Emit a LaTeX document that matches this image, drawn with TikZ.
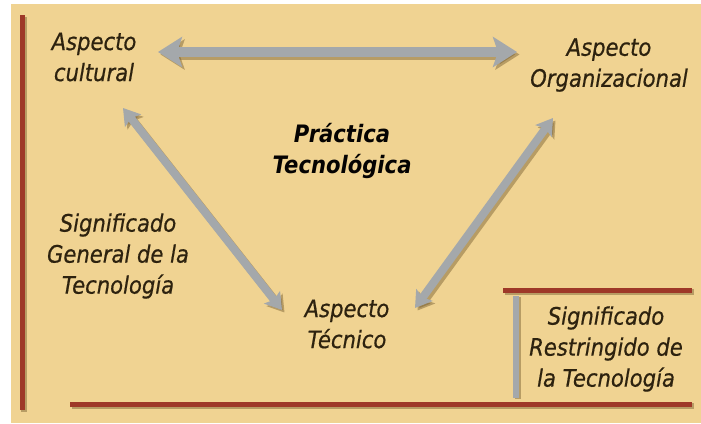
\documentclass[tikz,border=0pt]{standalone}
\usepackage{fontspec}
\setmainfont[FakeStretch=0.88]{DejaVu Sans}
\newfontfamily\lblfont[FakeStretch=0.88,FakeBold=0.6]{DejaVu Sans}
\usetikzlibrary{arrows.meta}
\definecolor{bg}{RGB}{240,211,146}
\definecolor{redl}{RGB}{158,56,40}
\definecolor{greyarr}{RGB}{164,168,171}
\definecolor{shade}{RGB}{115,90,45}
\definecolor{txt}{RGB}{45,34,15}
\begin{document}
\begin{tikzpicture}[x=1pt,y=-1pt,
  lbl/.style={font=\lblfont\fontsize{24}{31}\selectfont\itshape, text=txt, align=center, inner sep=0pt},
  boldlbl/.style={lbl, font=\fontsize{24}{31}\selectfont\itshape\bfseries, text=black!90!txt},
  redline/.style={draw=redl, line width=5pt},
  redshadow/.style={draw=shade, opacity=0.45, line width=6pt, transform canvas={shift={(2pt,-2pt)}}},
  bigarrow/.style={draw=greyarr, line width=10pt, {Stealth[width=30pt,length=24pt,inset=5pt]}-{Stealth[width=30pt,length=24pt,inset=5pt]}},
  bigshadow/.style={draw=shade, opacity=0.45, line width=10pt, {Stealth[width=30pt,length=24pt,inset=5pt]}-{Stealth[width=30pt,length=24pt,inset=5pt]}, transform canvas={shift={(2.5pt,-2.5pt)}}},
  diagarrow/.style={draw=greyarr, line width=8pt, {Stealth[width=20pt,length=16pt,inset=3pt]}-{Stealth[width=20pt,length=16pt,inset=3pt]}},
  diagshadow/.style={draw=shade, opacity=0.45, line width=8pt, {Stealth[width=20pt,length=16pt,inset=3pt]}-{Stealth[width=20pt,length=16pt,inset=3pt]}, transform canvas={shift={(2.5pt,-2.5pt)}}},
  bar/.style={draw=greyarr, line width=6pt},
  barshadow/.style={draw=shade, opacity=0.45, line width=6pt, transform canvas={shift={(2pt,-1pt)}}}
]
\useasboundingbox (0,0) rectangle (701,423);
\fill[white] (0,0) rectangle (701,423);
\fill[bg] (11,4) rectangle (701,423);

% text nodes
\node[lbl] (cult) at (94,57) {Aspecto\\cultural};
\node[lbl] (org) at (609,65) {Aspecto\\Organizacional};
\node[boldlbl] (prac) at (342,151) {Práctica\\Tecnológica};
\node[lbl] (gen) at (118,256) {Significado\\General de la\\Tecnología};
\node[lbl] (tec) at (347,324) {Aspecto\\Técnico};
\node[lbl] (res) at (606,349) {Significado\\Restringido de\\la Tecnología};

% coordinates
\coordinate (vtop) at (22,15);
\coordinate (vbot) at (22,410);
\coordinate (bl) at (70,404);
\coordinate (br) at (692,404);
\coordinate (ul) at (503,290);
\coordinate (ur) at (692,290);
\coordinate (bart) at (516,296);
\coordinate (barb) at (516,398);
\coordinate (ta) at (158,52);
\coordinate (tb) at (517,52);
\coordinate (la) at (123,108);
\coordinate (lb) at (282,310);
\coordinate (ra) at (553,118);
\coordinate (rb) at (415,308);

% red lines
\draw[redshadow] (vtop) -- (vbot);
\draw[redshadow] (bl) -- (br);
\draw[redshadow] (ul) -- (ur);
\draw[redline] (vtop) -- (vbot);
\draw[redline] (bl) -- (br);
\draw[redline] (ul) -- (ur);

% grey bar
\draw[barshadow] (bart) -- (barb);
\draw[bar] (bart) -- (barb);

% arrows
\draw[bigshadow] (ta) -- (tb);
\draw[bigarrow] (ta) -- (tb);
\draw[diagshadow] (la) -- (lb);
\draw[diagarrow] (la) -- (lb);
\draw[diagshadow] (ra) -- (rb);
\draw[diagarrow] (ra) -- (rb);
\end{tikzpicture}
\end{document}
